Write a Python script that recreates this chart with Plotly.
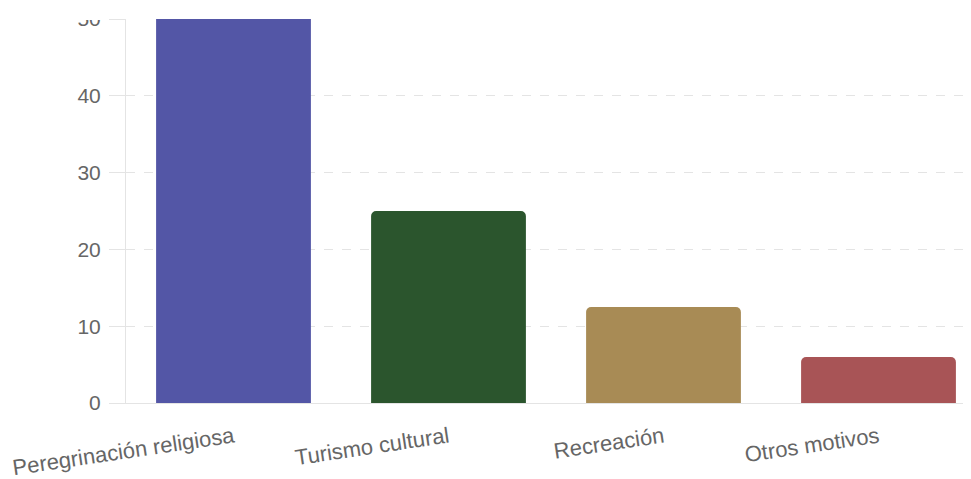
import plotly.graph_objects as go

categories = ["Peregrinación religiosa", "Turismo cultural", "Recreación", "Otros motivos"]
values = [56.5, 25, 12.5, 6]
colors = ["#5356A6", "#2B552D", "#A88B55", "#A85456"]
y_ticks = [0, 10, 20, 30, 40, 50]

# page body has a default 8px margin, so the figure is sized to the window minus it
OFF = 8
W, H = 971 - OFF, 479 - OFF
L, R, T, B = 126 - OFF, 0, 19 - OFF, 76
plot_w = W - L - R
plot_h = H - T - B
band = 215.0

fig = go.Figure(go.Bar(
    x=list(range(len(categories))),
    y=values,
    width=0.72,
    marker=dict(color=colors, cornerradius=5, line=dict(width=0)),
    hoverinfo="skip",
))

fig.update_layout(
    width=W, height=H,
    margin=dict(l=L, r=R, t=T, b=B, pad=0),
    paper_bgcolor="white", plot_bgcolor="white",
    showlegend=False,
    font=dict(family="Liberation Sans, Arial, sans-serif", size=22, color="#666666"),
    xaxis=dict(
        range=[-0.5, -0.5 + plot_w / band],
        tickvals=list(range(len(categories))),
        ticktext=categories,
        tickangle=-8.5,
        showgrid=False,
        zeroline=False,
        showline=True, linecolor="#e4e4e4", linewidth=1,
        ticks="", ticklabelstandoff=12,
        automargin=False,
        tickfont=dict(size=22, color="#666666"),
    ),
    yaxis=dict(
        range=[0, 50],
        tickvals=y_ticks,
        showgrid=True, gridcolor="#e4e4e4", griddash="dash", gridwidth=1,
        zeroline=False,
        showline=True, linecolor="#e4e4e4", linewidth=1,
        ticks="outside", ticklen=16, tickcolor="#e4e4e4",
        ticklabelstandoff=4,
        ticklabeloverflow="allow",
        automargin=False,
        tickfont=dict(size=21, color="#666666"),
    ),
    shapes=[
        # the reference is cropped at the top: only the lower part of the "50" label shows
        dict(
            type="rect", xref="paper", yref="paper",
            x0=-L / plot_w, x1=-17 / plot_w,
            y0=1 - 1.0 / plot_h, y1=1 + (T + 5) / plot_h,
            fillcolor="white", line=dict(width=0), layer="above",
        ),
        dict(
            type="rect", xref="paper", yref="paper",
            x0=-17 / plot_w, x1=1.0,
            y0=1 + 2 / plot_h, y1=1 + (T + 5) / plot_h,
            fillcolor="white", line=dict(width=0), layer="above",
        ),
    ],
)

fig.write_html("out.html")
